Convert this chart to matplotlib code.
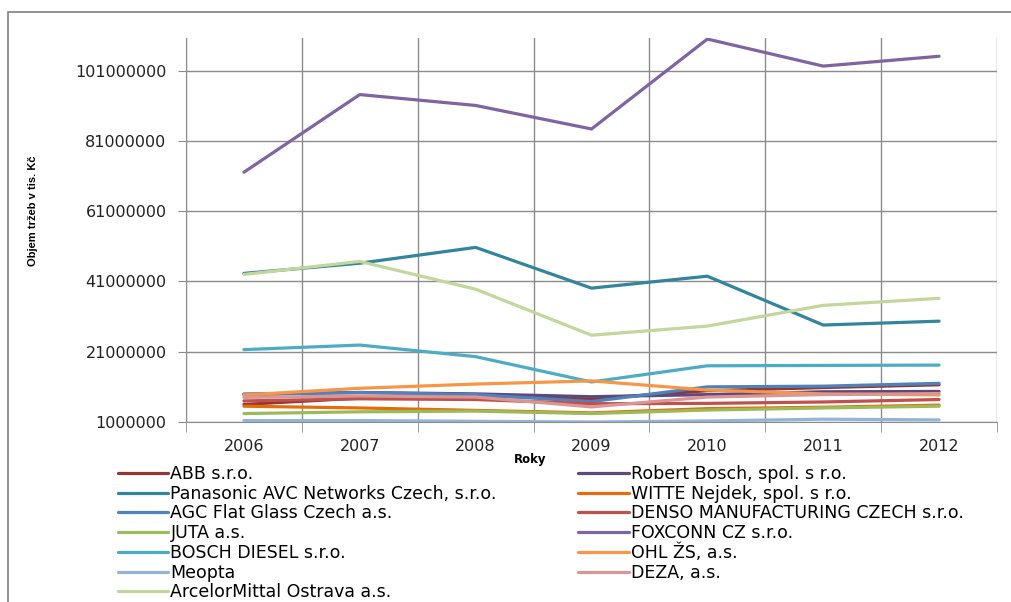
import matplotlib.pyplot as plt
from matplotlib.patches import Rectangle

# roky a objem trzeb (tis. Kc)
years = ['2006', '2007', '2008', '2009', '2010', '2011', '2012']

abb = [6000000, 7800000, 8500000, 7600000, 9900000, 10800000, 11600000]
robert_bosch = [8900000, 9400000, 9000000, 8200000, 8800000, 9600000, 9700000]
panasonic = [43300000, 46200000, 50700000, 39100000, 42500000, 28600000, 29700000]
witte = [5500000, 5000000, 4300000, 3600000, 4800000, 5200000, 5800000]
agc = [8900000, 9400000, 8800000, 6800000, 11000000, 11200000, 12000000]
denso = [7000000, 7600000, 7400000, 6200000, 6300000, 6700000, 7400000]
juta = [3400000, 3900000, 4100000, 3400000, 4400000, 5000000, 5500000]
foxconn = [72100000, 94200000, 91100000, 84400000, 110000000, 102300000, 105100000]
bosch_diesel = [21600000, 22900000, 19600000, 12400000, 17000000, 17100000, 17200000]
ohl = [8700000, 10600000, 11800000, 12700000, 10100000, 9000000, 8700000]
meopta = [1400000, 1400000, 1200000, 1000000, 1300000, 1800000, 1600000]
deza = [8000000, 8400000, 8100000, 5300000, 8100000, 8800000, 9100000]
arcelor = [43000000, 46700000, 38800000, 25700000, 28300000, 34200000, 36200000]

names = ['ABB s.r.o.', 'Robert Bosch, spol. s r.o.',
         'Panasonic AVC Networks Czech, s.r.o.', 'WITTE Nejdek, spol. s r.o.',
         'AGC Flat Glass Czech a.s.', 'DENSO MANUFACTURING CZECH s.r.o.',
         'JUTA a.s.', 'FOXCONN CZ s.r.o.', 'BOSCH DIESEL s.r.o.', 'OHL ŽS, a.s.',
         'Meopta', 'DEZA, a.s.', 'ArcelorMittal Ostrava a.s.']
series = [abb, robert_bosch, panasonic, witte, agc, denso, juta, foxconn,
          bosch_diesel, ohl, meopta, deza, arcelor]
colors = ['#943634', '#5f497a', '#31859c', '#e46c0a', '#4f81bd', '#c0504d',
          '#9bbb59', '#8064a2', '#4bacc6', '#f79646', '#95b3d7', '#d99694',
          '#c3d69b']

fig = plt.figure(figsize=(10.12, 6.02), dpi=100)
ax = fig.add_axes([186 / 1012, 1 - 422 / 602, (997 - 186) / 1012, (422 - 38) / 602])

# ramecek kolem grafu
fig.patches.append(Rectangle((8 / 1012, -0.1), 1.2, 1 - 12 / 602 + 0.1,
                             transform=fig.transFigure, fill=False,
                             edgecolor='#7f7f7f', lw=1.2))

x = list(range(len(years)))
lines = []
for vals, name, c in zip(series, names, colors):
    ln, = ax.plot(x, vals, color=c, lw=2.3, label=name, solid_capstyle='round')
    lines.append(ln)

ax.set_xlim(-0.5, len(years) - 0.5)
ax.set_ylim(1000000, 110300000)
ax.set_yticks([1000000, 21000000, 41000000, 61000000, 81000000, 101000000])
ax.set_yticklabels(['1000000', '21000000', '41000000', '61000000', '81000000', '101000000'])
ax.set_xticks(x)
ax.set_xticklabels(years)
ax.set_xticks([i - 0.5 for i in range(len(years) + 1)], minor=True)

grid_c = '#8c8c8c'
ax.grid(True, axis='y', color=grid_c, lw=1)
ax.grid(True, axis='x', which='minor', color=grid_c, lw=1)
ax.set_axisbelow(True)
for s in ['top', 'right']:
    ax.spines[s].set_visible(False)
for s in ['left', 'bottom']:
    ax.spines[s].set_color(grid_c)
ax.tick_params(axis='y', length=6, color=grid_c, pad=8, labelsize=11.5, labelcolor='#222222')
ax.tick_params(axis='x', which='major', length=0, pad=12, labelsize=11.5, labelcolor='#222222')
ax.tick_params(axis='x', which='minor', length=7, color=grid_c)

fig.text(33 / 1012, 1 - 211 / 602, 'Objem tržeb v tis. Kč', rotation=90,
         ha='center', va='center', fontsize=8, fontweight='bold',
         family='Liberation Sans')
fig.text(530 / 1012, 1 - 459 / 602, 'Roky', ha='center', va='center',
         fontsize=8.5, fontweight='bold')

# legenda po radcich jako v Excelu
order = [0, 2, 4, 6, 8, 10, 12, 1, 3, 5, 7, 9, 11]
fig.legend([lines[i] for i in order], [names[i] for i in order],
           loc='upper left', bbox_to_anchor=(118 / 1012, 1 - 465 / 602),
           ncol=2, frameon=False, fontsize=12.5, handlelength=2.9,
           handletextpad=0.12, labelspacing=0.1, columnspacing=4.7,
           borderpad=0, borderaxespad=0)

fig.savefig('out.png', dpi=100)
